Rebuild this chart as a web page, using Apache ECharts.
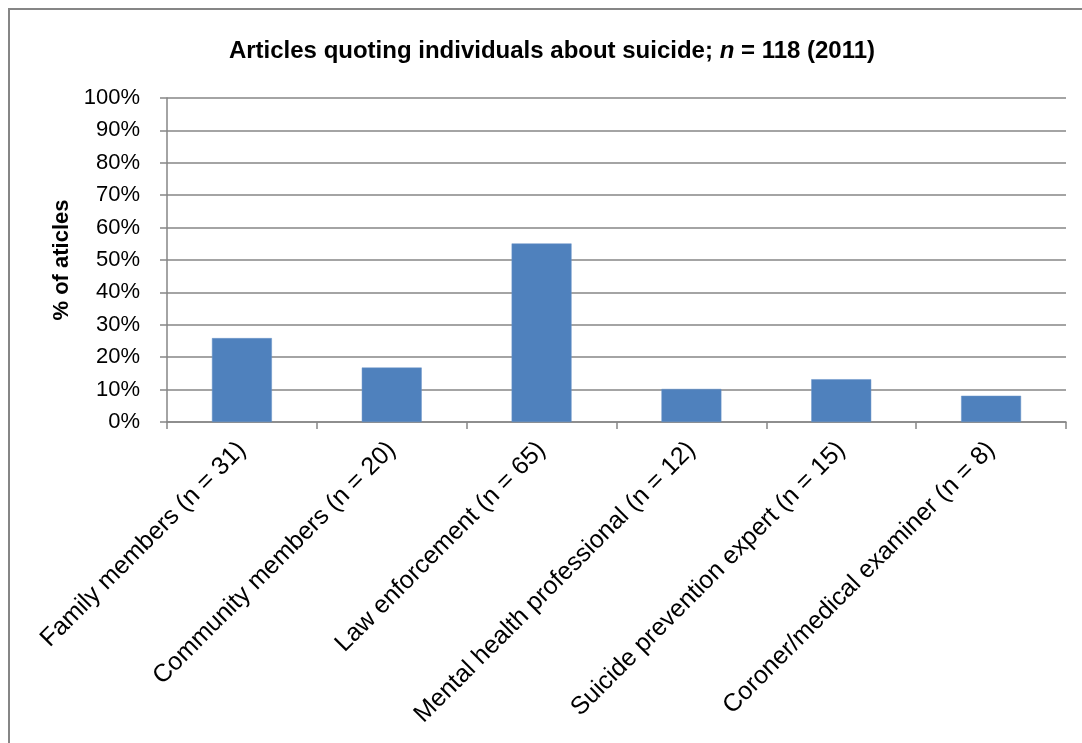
<!DOCTYPE html>
<html>
<head>
<meta charset="utf-8">
<script src="https://cdn.jsdelivr.net/npm/echarts@6/dist/echarts.min.js"></script>
<style>
html,body{margin:0;padding:0;background:#fff;}
#chart{width:1082px;height:743px;}
</style>
</head>
<body>
<div id="chart"></div>
<script>
var titleText = 'Articles quoting individuals about suicide; {i|n} = 118 (2011)';
var yAxisTitle = '% of aticles';
var categories = [
  'Family members (n = 31)',
  'Community members (n = 20)',
  'Law enforcement (n = 65)',
  'Mental health professional (n = 12)',
  'Suicide prevention expert (n = 15)',
  'Coroner/medical examiner (n = 8)'
];
var percentValues = [25.9, 16.8, 55.1, 10.2, 13.2, 8.1];
var yMin = 0, yMax = 100, yStep = 10;

var gray = '#868686';
var chart = echarts.init(document.getElementById('chart'));
chart.setOption({
  animation: false,
  backgroundColor: '#ffffff',
  graphic: [
    {type: 'rect', shape: {x: 9, y: 9, width: 1200, height: 900},
     style: {fill: 'none', stroke: gray, lineWidth: 2}, silent: true},
    {type: 'text', x: 552, y: 51,
     style: {text: titleText, textAlign: 'center', textVerticalAlign: 'middle',
       font: 'bold 24px "Liberation Sans"', fill: '#000',
       rich: {i: {fontStyle: 'italic', fontWeight: 'bold', fontSize: 24, fontFamily: 'Liberation Sans', fill: '#000'}}}}
  ],
  grid: {left: 167, right: 16, top: 98, bottom: 321},
  xAxis: {
    type: 'category',
    data: categories,
    axisLine: {show: true, lineStyle: {color: gray, width: 1.5}},
    axisTick: {show: true, length: 7, lineStyle: {color: gray, width: 1.5}},
    axisLabel: {rotate: 45, interval: 0, margin: 24, color: '#000',
      fontFamily: 'Liberation Sans', fontSize: 25}
  },
  yAxis: {
    type: 'value',
    min: yMin, max: yMax, interval: yStep,
    name: yAxisTitle,
    nameLocation: 'middle',
    nameRotate: 90,
    nameGap: 93,
    nameTextStyle: {fontFamily: 'Liberation Sans', fontWeight: 'bold', fontSize: 22, color: '#000'},
    axisLine: {show: true, lineStyle: {color: gray, width: 1.5}},
    axisTick: {show: true, length: 7, lineStyle: {color: gray, width: 1.5}},
    axisLabel: {formatter: '{value}%', margin: 27, color: '#000',
      fontFamily: 'Liberation Sans', fontSize: 22},
    splitLine: {show: true, lineStyle: {color: gray, width: 1.5}}
  },
  series: [{
    type: 'bar',
    data: percentValues,
    barWidth: '40%',
    itemStyle: {color: '#4F81BD', borderColor: '#6b95c8', borderWidth: 0.5}
  }]
});
</script>
</body>
</html>
